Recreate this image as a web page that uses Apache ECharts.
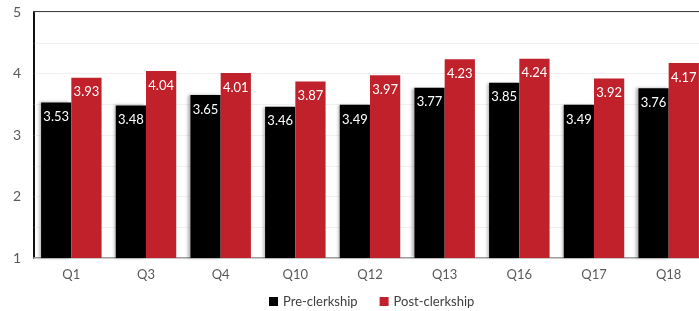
<!DOCTYPE html>
<html>
<head>
<meta charset="utf-8">
<script src="https://cdn.jsdelivr.net/npm/echarts@6/dist/echarts.min.js"></script>
<style>
  html, body { margin: 0; padding: 0; background: #fff; }
  #chart { width: 699px; height: 311px; }
</style>
</head>
<body>
<div id="chart"></div>
<script>
const categories = ['Q1', 'Q3', 'Q4', 'Q10', 'Q12', 'Q13', 'Q16', 'Q17', 'Q18']
const preClerkship = [3.53, 3.48, 3.65, 3.46, 3.49, 3.77, 3.85, 3.49, 3.76]
const postClerkship = [3.93, 4.04, 4.01, 3.87, 3.97, 4.23, 4.24, 3.92, 4.17]
const yTicks = [1, 2, 3, 4, 5]

const chart = echarts.init(document.getElementById('chart'))

const barLabel = {
  show: true,
  position: 'insideTop',
  distance: 8,
  color: '#fff',
  fontSize: 13,
  fontFamily: 'Lato'
}

const option = {
  textStyle: { fontFamily: 'Lato' },
  animation: false,
  legend: {
    data: ['Pre-clerkship', 'Post-clerkship'],
    left: 264,
    bottom: -2,
    itemWidth: 9,
    itemHeight: 9,
    itemGap: 22,
    icon: 'rect',
    textStyle: { color: '#404040', fontSize: 13, fontFamily: 'Lato' }
  },
  // plot runs a little past the right edge of the picture
  grid: {
    left: 34,
    width: 672,
    top: 12,
    bottom: 53,
    outerBoundsMode: 'none',
    show: true,
    borderColor: '#000',
    borderWidth: 1.5
  },
  xAxis: {
    type: 'category',
    data: categories,
    axisTick: { show: false },
    axisLine: { lineStyle: { color: '#bfbfbf', width: 1.5 } },
    axisLabel: { color: '#595959', fontSize: 13, margin: 10 }
  },
  yAxis: {
    type: 'value',
    min: yTicks[0],
    max: yTicks[yTicks.length - 1],
    interval: 1,
    axisLine: { show: true, lineStyle: { color: '#000', width: 1.5 } },
    axisTick: { show: false },
    axisLabel: { color: '#595959', fontSize: 14, margin: 13 },
    splitLine: { lineStyle: { color: '#f0f0f0' } },
    minorTick: { show: false, splitNumber: 2 },
    minorSplitLine: { show: true, lineStyle: { color: '#f0f0f0' } }
  },
  series: [
    {
      name: 'Pre-clerkship',
      type: 'bar',
      data: preClerkship,
      barGap: '0%',
      barCategoryGap: '19%',
      itemStyle: {
        color: '#000',
        shadowColor: 'rgba(0,0,0,0.3)',
        shadowBlur: 3,
        shadowOffsetX: -2
      },
      label: barLabel
    },
    {
      name: 'Post-clerkship',
      type: 'bar',
      data: postClerkship,
      itemStyle: { color: '#c0212b' },
      label: barLabel
    }
  ]
}

chart.setOption(option)
</script>
</body>
</html>
